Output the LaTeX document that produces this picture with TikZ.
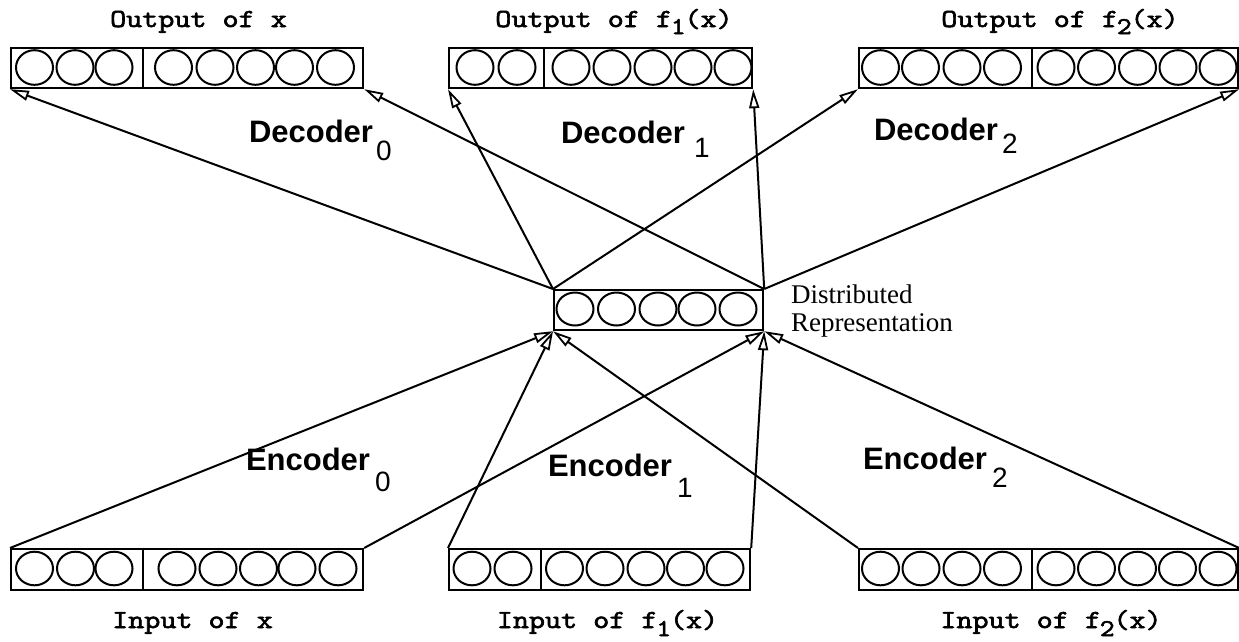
\documentclass[tikz,border=0pt]{standalone}
\usepackage{fontspec}
\setmainfont{Liberation Serif}
\newfontfamily\helvfam{Liberation Sans}
\newfontfamily\heavymono{Latin Modern Mono}[FakeBold=2.2]
\usetikzlibrary{arrows.meta}

\begin{document}
\begin{tikzpicture}[x=1pt, y=-1pt, line width=2pt,
  layer/.style={draw, line width=2.2pt, minimum height=40pt, inner sep=0pt, anchor=north west},
  unit/.style={line width=2pt},
  conn/.style={line width=2pt, -{Triangle[open, length=19pt, width=10pt, line width=1.8pt]}},
  mlabel/.style={font=\heavymono\fontsize{26}{26}\selectfont, inner sep=0pt, anchor=base},
  stage/.style={font=\helvfam\bfseries\fontsize{31}{31}\selectfont, inner sep=0pt, anchor=base west},
  repr/.style={font=\fontsize{27}{28}\selectfont, inner sep=0pt, align=left, anchor=west}]
\newcommand{\subd}[1]{{\mdseries\fontsize{28}{28}\selectfont #1}}
\newcommand{\subm}[2]{\kern-1pt\raisebox{-#1pt}{\fontsize{24}{24}\selectfont #2}\kern-1pt}
\newcommand{\wide}[1]{\scalebox{1.2}[1]{#1}}

\useasboundingbox (0,0) rectangle (1239,641);

% ---- output layers ----
\node[layer, minimum width=352pt] (outX) at (10,47) {};
\node[layer, minimum width=303pt] (outA) at (448,47) {};
\node[layer, minimum width=379pt] (outB) at (858,47) {};
\draw[line width=2.2pt] ([xshift=133pt]outX.north west) -- ([xshift=133pt]outX.south west);
\draw[line width=2.2pt] ([xshift=96pt]outA.north west) -- ([xshift=96pt]outA.south west);
\draw[line width=2.2pt] ([xshift=174pt]outB.north west) -- ([xshift=174pt]outB.south west);
\foreach \cx in {34.5,75,114,173.5,215,255.5,294.5,335.5}
  \draw[unit] (\cx,67.5) ellipse [x radius=18.5, y radius=17.3];
\foreach \cx in {475,517,571,612,653,693,733}
  \draw[unit] (\cx,67.5) ellipse [x radius=18.5, y radius=17.3];
\foreach \cx in {880.5,920.5,962,1002.5,1056,1096.5,1137.5,1178,1218}
  \draw[unit] (\cx,67.5) ellipse [x radius=18.5, y radius=17.3];

% ---- hidden layer ----
\node[layer, minimum width=209pt] (hid) at (553,289) {};
\foreach \cx in {575,616.5,658,697,738}
  \draw[unit] (\cx,309) ellipse [x radius=18.5, y radius=16.5];

% ---- input layers ----
\node[layer, minimum width=352pt, minimum height=41pt] (inX) at (10,548) {};
\node[layer, minimum width=301pt, minimum height=41pt] (inA) at (448,548) {};
\node[layer, minimum width=379pt, minimum height=41pt] (inB) at (858,548) {};
\draw[line width=2.2pt] ([xshift=133pt]inX.north west) -- ([xshift=133pt]inX.south west);
\draw[line width=2.2pt] ([xshift=93pt]inA.north west) -- ([xshift=93pt]inA.south west);
\draw[line width=2.2pt] ([xshift=174pt]inB.north west) -- ([xshift=174pt]inB.south west);
\foreach \cx in {34.5,75.5,114,177,218,258.5,297,338}
  \draw[unit] (\cx,568.5) ellipse [x radius=18.5, y radius=16.8];
\foreach \cx in {472,513,564.5,605,646,685.5,725}
  \draw[unit] (\cx,568.5) ellipse [x radius=18.5, y radius=16.8];
\foreach \cx in {880.5,921,962,1002.5,1056,1096.5,1137.5,1177.5,1218}
  \draw[unit] (\cx,568.5) ellipse [x radius=18.5, y radius=16.8];

% ---- decoders ----
\draw[conn] (hid.north west) -- (outX.south west);
\draw[conn] (hid.north east) -- (outX.south east);
\draw[conn] (hid.north west) -- (outA.south west);
\draw[conn] (hid.north east) -- (outA.south east);
\draw[conn] (hid.north west) -- (outB.south west);
\draw[conn] (hid.north east) -- (outB.south east);

% ---- encoders ----
\draw[conn] (inX.north west) -- (hid.south west);
\draw[conn] (inX.north east) -- (hid.south east);
\draw[conn] (inA.north west) -- (hid.south west);
\draw[conn] (inA.north east) -- (hid.south east);
\draw[conn] (inB.north west) -- (hid.south west);
\draw[conn] (inB.north east) -- (hid.south east);

% ---- labels ----
\node[mlabel] (tOutX) at (198.5,27) {\wide{Output of x}};
\node[mlabel] (tOutA) at (614,27) {\wide{Output of f\subm{7}{1}(x)}};
\node[mlabel] (tOutB) at (1060,27) {\wide{Output of f\subm{7}{2}(x)}};
\node[mlabel] (tInX) at (192.5,628) {\wide{Input of x}};
\node[mlabel] (tInA) at (607.5,628) {\wide{Input of f\subm{8}{1}(x)}};
\node[mlabel] (tInB) at (1051,628) {\wide{Input of f\subm{8}{2}(x)}};

\node[stage] (dec0) at (248,142) {Decoder\hspace{3pt}\raisebox{-18pt}{\subd{0}}};
\node[stage] (dec1) at (560,143) {Decoder\hspace{9pt}\raisebox{-14pt}{\subd{1}}};
\node[stage] (dec2) at (873,140) {Decoder\hspace{4pt}\raisebox{-13pt}{\subd{2}}};
\node[stage] (enc0) at (245,470) {Encoder\hspace{5pt}\raisebox{-21pt}{\subd{0}}};
\node[stage] (enc1) at (547,476) {Encoder\hspace{5pt}\raisebox{-21pt}{\subd{1}}};
\node[stage] (enc2) at (862,469) {Encoder\hspace{5pt}\raisebox{-18pt}{\subd{2}}};

\node[repr] (reprLbl) at (790,311) {Distributed\\Representation};
\end{tikzpicture}
\end{document}
